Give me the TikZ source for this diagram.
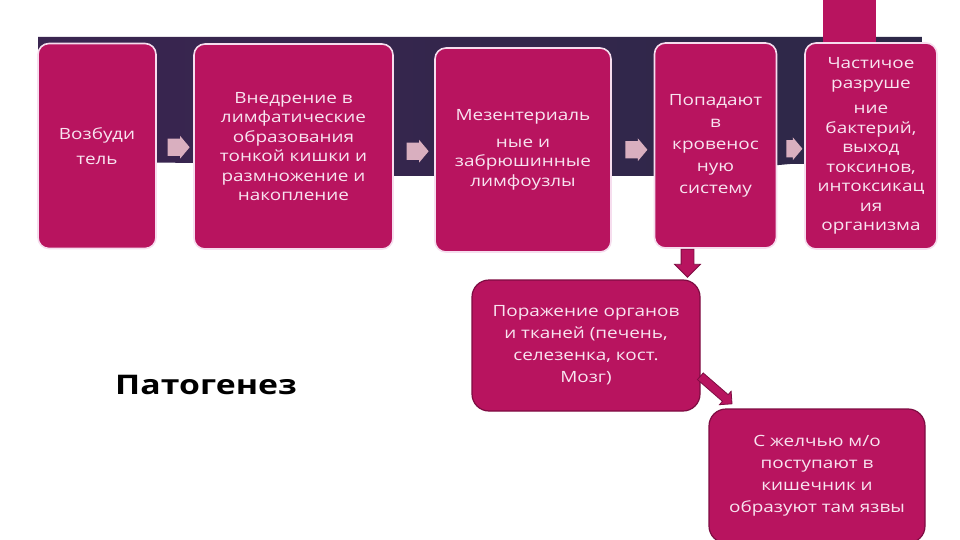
\documentclass[tikz,border=0pt]{standalone}
\usepackage{fontspec}
\setmainfont{Open Sans}
\newfontfamily\boxfont{Open Sans}[FakeStretch=1.22]
\newfontfamily\titlefont{Open Sans}[FakeStretch=1.25]
\usetikzlibrary{shapes.arrows,calc}
\definecolor{mag}{HTML}{B8145F}
\definecolor{magdark}{HTML}{7E0C42}
\definecolor{rim}{HTML}{F6DDEE}
\definecolor{txt}{HTML}{F8E4F0}
\definecolor{pinkarrow}{HTML}{D9AFBF}
\definecolor{bandL}{HTML}{3A2550}
\definecolor{bandM}{HTML}{4B2A5B}
\definecolor{bandR}{HTML}{2D2848}
\tikzset{
  topbox/.style={draw=rim, line width=1.6pt, fill=mag, rounded corners=11pt, align=center,
    text=txt, font=\boxfont\fontsize{15.5}{19.5}\selectfont, inner sep=1pt},
  lowbox/.style={draw=magdark, line width=1.2pt, fill=mag, rounded corners=17pt, align=center,
    text=txt, font=\boxfont\fontsize{15.5}{22}\selectfont, inner sep=1pt},
  flowarrow/.style={single arrow, fill=pinkarrow, draw=none, minimum height=22pt, minimum width=23pt,
    inner xsep=0pt, inner ysep=6pt, single arrow head extend=2pt, single arrow tip angle=100},
  downarrow/.style={single arrow, fill=mag, draw=magdark, line width=0.8pt, minimum height=28pt,
    inner xsep=0pt, inner ysep=6pt, single arrow head extend=6.5pt}
}
\begin{document}
\begin{tikzpicture}[x=1pt,y=-1pt]
\useasboundingbox[fill=white] (0,0) rectangle (960,540);
% dark band
\shade[left color=bandL, middle color=bandM, right color=bandR]
  (38,37) -- (922,37) -- (922,164) -- (790,164) -- (655,176) -- (395,176) -- (195,163) -- (38,161) -- cycle;
% top magenta tab
\fill[mag] (823,0) rectangle (876,46);
% top boxes
\node[topbox, minimum width=118pt, minimum height=205pt] (b1) at (97,146)
  {Возбуди\\[5pt]тель};
\node[topbox, minimum width=199pt, minimum height=205pt] (b2) at (293.5,146.5)
  {Внедрение в\\лимфатические\\образования\\тонкой кишки и\\размножение и\\накопление};
\node[topbox, minimum width=176pt, minimum height=204pt] (b3) at (523,150)
  {Мезентериаль\\[7pt]ные и\\забрюшинные\\лимфоузлы};
\node[topbox, minimum width=122pt, minimum height=205pt, font=\boxfont\fontsize{15.5}{22}\selectfont] (b4) at (715.5,145.5)
  {Попадают\\в\\кровенос\\ную\\систему};
\node[topbox, minimum width=132pt, minimum height=206pt] (b5) at (871,146)
  {Частичое\\разруше\\[6pt]ние\\бактерий,\\выход\\токсинов,\\интоксикац\\ия\\организма};
% flow arrows
\node[flowarrow] (a1) at ($(b1.east)!0.5!(b2.west)+(0,1)$) {};
\node[flowarrow] (a2) at ($(b2.east)!0.5!(b3.west)+(0,3)$) {};
\node[flowarrow] (a3) at ($(b3.east)!0.5!(b4.west)+(0,2)$) {};
\node[flowarrow, minimum height=16pt] (a4) at ($(b4.east)!0.5!(b5.west)+(0,3)$) {};
% lower boxes
\node[lowbox, minimum width=228pt, minimum height=131pt] (b6) at (586,345.5)
  {Поражение органов\\и тканей (печень,\\селезенка, кост.\\Мозг)};
\node[lowbox, minimum width=216pt, minimum height=134pt] (b7) at (817,476)
  {С желчью м/о\\поступают в\\кишечник и\\образуют там язвы};
% connectors
\node[downarrow, rotate=-90, anchor=tail] (d1) at ($(b4.south)+(-28,0)$) {};
\node[downarrow, rotate=-41, minimum height=42pt, inner ysep=4pt, single arrow head extend=4.5pt, anchor=tail] (d2) at (700,376) {};
% title
\node[font=\titlefont\fontsize{27}{30}\selectfont\bfseries, text=black] (title) at (206,385) {Патогенез};
\end{tikzpicture}
\end{document}
